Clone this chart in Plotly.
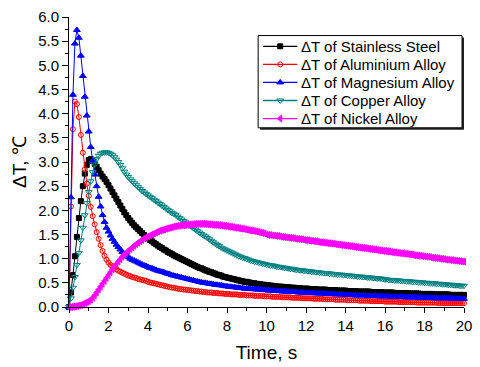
import plotly.graph_objects as go

# time grid, 0.1 s steps from 0 to 20 s
TIME = [round(i * 0.1, 1) for i in range(201)]

STEEL = [
    0.00, 0.30, 0.66, 1.05, 1.45, 1.84, 2.19, 2.50, 2.76, 2.94,
    3.04, 3.06, 3.02, 2.96, 2.90, 2.83, 2.76, 2.70, 2.65, 2.59,
    2.52, 2.45, 2.38, 2.31, 2.24, 2.17, 2.10, 2.03, 1.96, 1.90,
    1.84, 1.79, 1.74, 1.69, 1.65, 1.61, 1.57, 1.53, 1.49, 1.45,
    1.42, 1.39, 1.36, 1.33, 1.30, 1.27, 1.24, 1.22, 1.19, 1.17,
    1.14, 1.12, 1.10, 1.07, 1.05, 1.03, 1.01, 0.99, 0.97, 0.95,
    0.93, 0.91, 0.89, 0.87, 0.85, 0.83, 0.81, 0.80, 0.78, 0.76,
    0.75, 0.73, 0.72, 0.70, 0.69, 0.67, 0.66, 0.65, 0.63, 0.62,
    0.61, 0.60, 0.59, 0.58, 0.57, 0.56, 0.55, 0.54, 0.53, 0.52,
    0.52, 0.51, 0.50, 0.49, 0.49, 0.48, 0.47, 0.47, 0.46, 0.46,
    0.45, 0.45, 0.44, 0.44, 0.43, 0.43, 0.42, 0.42, 0.42, 0.41,
    0.41, 0.41, 0.40, 0.40, 0.40, 0.39, 0.39, 0.39, 0.38, 0.38,
    0.38, 0.38, 0.37, 0.37, 0.37, 0.37, 0.36, 0.36, 0.36, 0.36,
    0.36, 0.35, 0.35, 0.35, 0.35, 0.35, 0.34, 0.34, 0.34, 0.34,
    0.34, 0.33, 0.33, 0.33, 0.33, 0.33, 0.32, 0.32, 0.32, 0.32,
    0.32, 0.32, 0.32, 0.31, 0.31, 0.31, 0.31, 0.31, 0.31, 0.30,
    0.30, 0.30, 0.30, 0.30, 0.30, 0.29, 0.29, 0.29, 0.29, 0.29,
    0.29, 0.29, 0.28, 0.28, 0.28, 0.28, 0.28, 0.28, 0.27, 0.27,
    0.27, 0.27, 0.27, 0.27, 0.27, 0.26, 0.26, 0.26, 0.26, 0.26,
    0.26, 0.26, 0.26, 0.25, 0.25, 0.25, 0.25, 0.25, 0.25, 0.25,
    0.25,
]

ALUMINIUM = [
    0.00, 2.08, 3.68, 4.25, 4.20, 3.93, 3.56, 3.19, 2.85, 2.55,
    2.30, 2.07, 1.88, 1.71, 1.55, 1.41, 1.28, 1.16, 1.06, 0.98,
    0.92, 0.87, 0.84, 0.81, 0.78, 0.75, 0.73, 0.71, 0.69, 0.67,
    0.65, 0.64, 0.62, 0.61, 0.60, 0.58, 0.57, 0.56, 0.55, 0.54,
    0.52, 0.51, 0.50, 0.49, 0.48, 0.47, 0.46, 0.45, 0.44, 0.43,
    0.42, 0.41, 0.40, 0.40, 0.39, 0.38, 0.37, 0.37, 0.36, 0.36,
    0.35, 0.35, 0.34, 0.34, 0.33, 0.33, 0.32, 0.32, 0.31, 0.31,
    0.30, 0.30, 0.30, 0.29, 0.29, 0.29, 0.28, 0.28, 0.28, 0.27,
    0.27, 0.27, 0.26, 0.26, 0.26, 0.26, 0.25, 0.25, 0.25, 0.25,
    0.24, 0.24, 0.24, 0.24, 0.23, 0.23, 0.23, 0.23, 0.23, 0.22,
    0.22, 0.22, 0.22, 0.21, 0.21, 0.21, 0.21, 0.21, 0.20, 0.20,
    0.20, 0.20, 0.20, 0.19, 0.19, 0.19, 0.19, 0.19, 0.18, 0.18,
    0.18, 0.18, 0.18, 0.18, 0.17, 0.17, 0.17, 0.17, 0.17, 0.16,
    0.16, 0.16, 0.16, 0.16, 0.16, 0.15, 0.15, 0.15, 0.15, 0.15,
    0.15, 0.14, 0.14, 0.14, 0.14, 0.14, 0.14, 0.13, 0.13, 0.13,
    0.13, 0.13, 0.13, 0.12, 0.12, 0.12, 0.12, 0.12, 0.12, 0.12,
    0.11, 0.11, 0.11, 0.11, 0.11, 0.11, 0.11, 0.10, 0.10, 0.10,
    0.10, 0.10, 0.10, 0.10, 0.10, 0.10, 0.09, 0.09, 0.09, 0.09,
    0.09, 0.09, 0.09, 0.09, 0.09, 0.09, 0.09, 0.08, 0.08, 0.08,
    0.08, 0.08, 0.08, 0.08, 0.08, 0.08, 0.08, 0.08, 0.08, 0.08,
    0.08,
]

MAGNESIUM = [
    0.00, 2.27, 4.39, 5.45, 5.73, 5.57, 5.20, 4.78, 4.35, 3.96,
    3.63, 3.31, 3.02, 2.74, 2.50, 2.28, 2.08, 1.90, 1.76, 1.64,
    1.56, 1.48, 1.41, 1.35, 1.29, 1.24, 1.19, 1.14, 1.10, 1.06,
    1.03, 1.00, 0.98, 0.96, 0.94, 0.92, 0.90, 0.88, 0.86, 0.85,
    0.83, 0.81, 0.80, 0.78, 0.77, 0.75, 0.74, 0.73, 0.72, 0.70,
    0.69, 0.68, 0.66, 0.65, 0.64, 0.63, 0.62, 0.61, 0.60, 0.59,
    0.58, 0.57, 0.56, 0.55, 0.54, 0.53, 0.52, 0.51, 0.50, 0.50,
    0.49, 0.48, 0.48, 0.47, 0.46, 0.46, 0.45, 0.45, 0.44, 0.43,
    0.43, 0.42, 0.42, 0.41, 0.41, 0.40, 0.40, 0.39, 0.39, 0.38,
    0.38, 0.38, 0.37, 0.37, 0.37, 0.36, 0.36, 0.36, 0.35, 0.35,
    0.35, 0.34, 0.34, 0.34, 0.33, 0.33, 0.33, 0.33, 0.32, 0.32,
    0.32, 0.32, 0.31, 0.31, 0.31, 0.31, 0.30, 0.30, 0.30, 0.30,
    0.29, 0.29, 0.29, 0.29, 0.29, 0.28, 0.28, 0.28, 0.28, 0.28,
    0.27, 0.27, 0.27, 0.27, 0.27, 0.26, 0.26, 0.26, 0.26, 0.26,
    0.25, 0.25, 0.25, 0.25, 0.25, 0.24, 0.24, 0.24, 0.24, 0.24,
    0.24, 0.23, 0.23, 0.23, 0.23, 0.23, 0.23, 0.22, 0.22, 0.22,
    0.22, 0.22, 0.22, 0.21, 0.21, 0.21, 0.21, 0.21, 0.21, 0.21,
    0.20, 0.20, 0.20, 0.20, 0.20, 0.20, 0.20, 0.19, 0.19, 0.19,
    0.19, 0.19, 0.19, 0.19, 0.19, 0.18, 0.18, 0.18, 0.18, 0.18,
    0.18, 0.18, 0.18, 0.18, 0.17, 0.17, 0.17, 0.17, 0.17, 0.17,
    0.17,
]

COPPER = [
    0.00, 0.18, 0.40, 0.62, 0.87, 1.12, 1.38, 1.64, 1.90, 2.15,
    2.38, 2.60, 2.79, 2.95, 3.06, 3.13, 3.17, 3.19, 3.20, 3.20,
    3.19, 3.17, 3.14, 3.10, 3.05, 3.00, 2.94, 2.87, 2.80, 2.74,
    2.69, 2.64, 2.60, 2.56, 2.52, 2.48, 2.44, 2.40, 2.37, 2.34,
    2.31, 2.28, 2.25, 2.22, 2.19, 2.16, 2.13, 2.10, 2.07, 2.04,
    2.01, 1.98, 1.95, 1.93, 1.90, 1.87, 1.84, 1.81, 1.78, 1.75,
    1.72, 1.69, 1.66, 1.63, 1.60, 1.57, 1.54, 1.51, 1.48, 1.46,
    1.43, 1.40, 1.37, 1.34, 1.31, 1.28, 1.26, 1.23, 1.21, 1.19,
    1.17, 1.15, 1.13, 1.11, 1.09, 1.07, 1.05, 1.04, 1.02, 1.01,
    0.99, 0.98, 0.96, 0.95, 0.94, 0.93, 0.92, 0.91, 0.90, 0.89,
    0.88, 0.87, 0.86, 0.86, 0.85, 0.84, 0.83, 0.83, 0.82, 0.81,
    0.81, 0.80, 0.79, 0.79, 0.78, 0.77, 0.77, 0.76, 0.76, 0.75,
    0.75, 0.74, 0.74, 0.73, 0.73, 0.72, 0.72, 0.71, 0.71, 0.70,
    0.70, 0.70, 0.69, 0.69, 0.68, 0.68, 0.67, 0.67, 0.67, 0.66,
    0.66, 0.65, 0.65, 0.65, 0.64, 0.64, 0.63, 0.63, 0.63, 0.62,
    0.62, 0.61, 0.61, 0.61, 0.60, 0.60, 0.59, 0.59, 0.59, 0.58,
    0.57, 0.57, 0.56, 0.56, 0.56, 0.55, 0.55, 0.55, 0.54, 0.54,
    0.54, 0.53, 0.53, 0.53, 0.52, 0.52, 0.52, 0.51, 0.51, 0.51,
    0.50, 0.50, 0.50, 0.49, 0.49, 0.49, 0.48, 0.48, 0.48, 0.47,
    0.47, 0.47, 0.46, 0.46, 0.46, 0.45, 0.45, 0.45, 0.44, 0.44,
    0.44,
]

NICKEL = [
    0.00, 0.00, 0.01, 0.01, 0.02, 0.03, 0.04, 0.06, 0.08, 0.10,
    0.12, 0.15, 0.19, 0.24, 0.30, 0.36, 0.42, 0.48, 0.54, 0.60,
    0.66, 0.72, 0.78, 0.84, 0.89, 0.94, 0.99, 1.04, 1.08, 1.12,
    1.16, 1.20, 1.23, 1.27, 1.30, 1.33, 1.36, 1.39, 1.42, 1.44,
    1.46, 1.48, 1.50, 1.52, 1.54, 1.56, 1.58, 1.59, 1.60, 1.62,
    1.63, 1.64, 1.65, 1.66, 1.67, 1.68, 1.68, 1.69, 1.69, 1.70,
    1.70, 1.71, 1.71, 1.71, 1.72, 1.72, 1.72, 1.72, 1.72, 1.72,
    1.71, 1.71, 1.71, 1.70, 1.70, 1.70, 1.69, 1.69, 1.68, 1.68,
    1.67, 1.66, 1.66, 1.65, 1.64, 1.64, 1.63, 1.62, 1.62, 1.61,
    1.60, 1.59, 1.58, 1.58, 1.57, 1.56, 1.55, 1.54, 1.53, 1.52,
    1.50, 1.49, 1.49, 1.48, 1.48, 1.47, 1.47, 1.46, 1.45, 1.45,
    1.44, 1.44, 1.43, 1.43, 1.42, 1.41, 1.41, 1.40, 1.40, 1.39,
    1.38, 1.38, 1.37, 1.37, 1.36, 1.36, 1.35, 1.34, 1.34, 1.33,
    1.33, 1.32, 1.32, 1.31, 1.31, 1.30, 1.29, 1.29, 1.28, 1.28,
    1.27, 1.27, 1.26, 1.26, 1.25, 1.24, 1.24, 1.23, 1.23, 1.22,
    1.22, 1.21, 1.20, 1.20, 1.19, 1.19, 1.18, 1.17, 1.17, 1.16,
    1.16, 1.15, 1.15, 1.14, 1.13, 1.13, 1.12, 1.12, 1.11, 1.11,
    1.10, 1.10, 1.09, 1.09, 1.08, 1.07, 1.07, 1.06, 1.06, 1.05,
    1.05, 1.04, 1.04, 1.03, 1.02, 1.02, 1.01, 1.01, 1.00, 1.00,
    0.99, 0.98, 0.98, 0.97, 0.97, 0.96, 0.96, 0.95, 0.95, 0.94,
    0.94,
]

NAMES = ["ΔT of Stainless Steel", "ΔT of Aluminium Alloy", "ΔT of Magnesium Alloy",
         "ΔT of Copper Alloy", "ΔT of Nickel Alloy"]
VALUES = [STEEL, ALUMINIUM, MAGNESIUM, COPPER, NICKEL]
COLORS = ["#000000", "#FF0000", "#0000FF", "#008080", "#FF00FF"]
SYMBOLS = ["square", "circle-open", "triangle-up", "triangle-down-open", "triangle-left"]
SIZES = [5, 5, 6, 6, 6]

FONT = "Arial, 'Liberation Sans', sans-serif"

# plot area in pixels (used by the overlay axis that holds the framed legend)
PX_L, PX_R, PX_T, PX_B = 69, 472, 14, 311
LEG_BOX = (262, 33, 470, 127.5)       # left, top, right, bottom (px)
LEG_ROW0, LEG_ROW_STEP = 44, 18.5
LEG_LINE = (267, 284.5, 302)
LEG_TEXT_X = 305

fig = go.Figure()
for name, vals, color, sym, size in zip(NAMES, VALUES, COLORS, SYMBOLS, SIZES):
    assert len(vals) == len(TIME)
    fig.add_trace(go.Scatter(
        x=TIME, y=vals, name=name, mode="lines+markers",
        line=dict(color=color, width=1),
        marker=dict(symbol=sym, size=size, color=color,
                    line=dict(color=color, width=1)),
        cliponaxis=False, showlegend=False,
    ))

# framed legend (Origin style, with drop shadow)
shapes = [
    dict(type="rect", xref="x2", yref="y2", layer="below",
         x0=LEG_BOX[0] + 2, y0=LEG_BOX[1] + 2, x1=LEG_BOX[2] + 2, y1=LEG_BOX[3] + 2,
         line=dict(width=0), fillcolor="#222222"),
    dict(type="rect", xref="x2", yref="y2", layer="below",
         x0=LEG_BOX[0], y0=LEG_BOX[1], x1=LEG_BOX[2], y1=LEG_BOX[3],
         line=dict(color="black", width=1), fillcolor="white"),
]
annotations = []
for i, (name, color, sym, size) in enumerate(zip(NAMES, COLORS, SYMBOLS, SIZES)):
    yrow = LEG_ROW0 + i * LEG_ROW_STEP
    fig.add_trace(go.Scatter(
        x=list(LEG_LINE), y=[yrow] * 3, xaxis="x2", yaxis="y2",
        mode="lines+markers", showlegend=False, hoverinfo="skip",
        line=dict(color=color, width=1.3),
        marker=dict(symbol=sym, size=size, color=color, opacity=[0, 1, 0],
                    line=dict(color=color, width=1)),
    ))
    annotations.append(dict(
        xref="x2", yref="y2", x=LEG_TEXT_X, y=yrow, text=name, showarrow=False,
        xanchor="left", yanchor="middle", borderpad=0,
        font=dict(family=FONT, size=15, color="black"),
    ))

fig.update_layout(
    width=480, height=367,
    margin=dict(l=PX_L, r=480 - PX_R, t=PX_T, b=367 - PX_B),
    paper_bgcolor="white", plot_bgcolor="white",
    font=dict(family=FONT, color="black", size=15),
    showlegend=False,
    shapes=shapes, annotations=annotations,
    xaxis=dict(
        range=[0, 20], tickmode="linear", tick0=0, dtick=2,
        showgrid=False, zeroline=False,
        showline=True, linecolor="black", linewidth=1,
        ticks="outside", ticklen=5, tickwidth=1, tickcolor="black",
        minor=dict(ticks="outside", ticklen=3, dtick=1, tickcolor="black", showgrid=False),
        tickfont=dict(size=15), ticklabeloverflow="allow",
        title=dict(text="Time, s", font=dict(size=19), standoff=12),
    ),
    yaxis=dict(
        range=[0, 6], tickmode="linear", tick0=0, dtick=0.5, tickformat=".1f",
        showgrid=False, zeroline=False,
        showline=True, linecolor="black", linewidth=1,
        ticks="outside", ticklen=6, tickwidth=1, tickcolor="black",
        minor=dict(ticks="outside", ticklen=3, dtick=0.25, tickcolor="black", showgrid=False),
        tickfont=dict(size=15), ticklabeloverflow="allow",
        title=dict(text="ΔT, ℃", font=dict(size=19), standoff=6),
    ),
    xaxis2=dict(overlaying="x", range=[PX_L, PX_R], visible=False, fixedrange=True),
    yaxis2=dict(overlaying="y", range=[PX_B, PX_T], visible=False, fixedrange=True),
)

fig.write_html("out.html")
